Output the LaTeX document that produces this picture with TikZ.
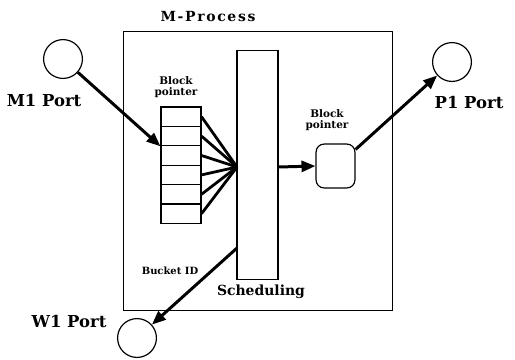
\documentclass[tikz,border=0pt]{standalone}
\usepackage{fontspec}
\setmainfont{DejaVu Serif}
\usetikzlibrary{arrows.meta, positioning, calc}
\tikzset{
  fig/.style = {
    font=\bfseries,
    every node/.append style={execute at begin node=\linespread{0.9}\selectfont},
  },
  frame/.style = {
    rectangle, draw, line width=1.6pt, minimum width=270, minimum height=280,
    inner sep=0pt,
  },
  port/.style = {
    circle, draw, line width=1.2pt, minimum size=39, inner sep=0pt,
  },
  cell/.style = {
    rectangle, draw, line width=1.2pt, minimum width=40, minimum height=19.4,
    inner sep=0pt,
  },
  sched/.style = {
    rectangle, draw, line width=1.4pt, minimum width=41, minimum height=230,
    inner sep=0pt,
  },
  buf/.style = {
    rectangle, rounded corners=8pt, draw, line width=1.2pt,
    minimum width=39, minimum height=44, inner sep=0pt,
  },
  big/.style = {font=\bfseries\fontsize{16.5}{18}\selectfont, inner sep=1pt},
  small/.style = {font=\bfseries\fontsize{10.5}{12}\selectfont, align=center,
    inner sep=1pt},
  tiny/.style = {font=\bfseries\fontsize{10}{11}\selectfont, inner sep=1pt},
  arr/.style = {-{Triangle[length=14pt, width=11pt]}, line width=3pt},
  fan/.style = {line width=2.8pt},
}

\begin{document}
\begin{tikzpicture}[fig, x=1bp, y=1bp]
\useasboundingbox (0,0) rectangle (515,-359);

\node[frame] (mproc)  at (258,-171) {};
\node[big, font=\bfseries\fontsize{14}{16}\selectfont] (mtitle) at (208,-17)
  {\addfontfeatures{LetterSpace=12}M-Process};

\node[port]  (m1)  at (63,-59)   {};
\node[big]   (m1l) at (44,-101)  {M1 Port};
\node[port]  (p1)  at (452,-62)  {};
\node[big]   (p1l) at (469,-103) {P1 Port};
\node[port]  (w1)  at (137,-338) {};
\node[big]   (w1l) at (69,-322)  {W1 Port};

\node[small] (bp1) at (176,-87)  {Block\\pointer};
\foreach \i in {0,...,5}
  \node[cell] (c\i) at (181,{-116.7-19.4*\i}) {};
\node[tiny]  (bid) at (170,-271) {Bucket ID};

\node[sched] (sch)  at (257.5,-165) {};
\node[big, font=\bfseries\fontsize{14}{16}\selectfont] (schl) at (261,-292)
  {Scheduling};
\coordinate (hub)  at (237,-167);
\coordinate (wout) at (237,-248);

\node[buf]   (bp)   at (335.5,-166) {};
\node[small] (bp2)  at (327,-120)   {Block\\pointer};

\draw[arr] (m1) -- (c1.south west);
\foreach \i in {0,...,5}
  \draw[fan] (c\i.east) -- (hub);
\draw[arr] (sch.east |- hub) -- (bp.west);
\draw[arr] (bp.north east) ++(0,-6) -- (p1);
\draw[arr] (wout) -- (w1);

\end{tikzpicture}
\end{document}
